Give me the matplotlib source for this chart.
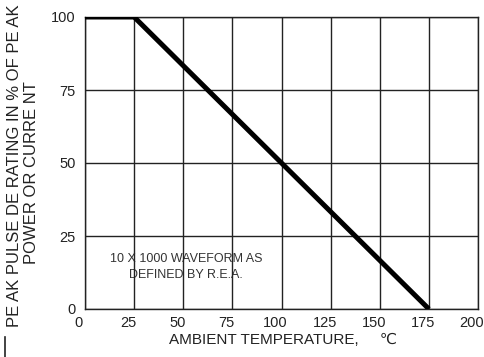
import matplotlib
matplotlib.use("Agg")
import matplotlib.pyplot as plt
from matplotlib.lines import Line2D
import matplotlib.transforms as mtransforms

temps = [0, 25, 175]
rating = [100, 100, 0]
xticks = [0, 25, 50, 75, 100, 125, 150, 175, 200]
yticks = [0, 25, 50, 75, 100]

plt.rcParams['font.family'] = ['Liberation Sans', 'DejaVu Sans']

fig = plt.figure(figsize=(4.85, 3.57), dpi=100)
ax = fig.add_axes([85/485, 1-309/357, (478-85)/485, (309-17)/357])
ax.set_xlim(0, 200)
ax.set_ylim(0, 100)
ax.set_xticks(xticks)
ax.set_yticks(yticks)
ax.set_xticklabels([str(v) for v in xticks], fontsize=10.5, color='#222222')
ax.set_yticklabels([str(v) for v in yticks], fontsize=10.5, color='#222222')
ax.tick_params(axis='x', length=0, pad=5)
ax.tick_params(axis='y', length=0, pad=6.5)
shift = mtransforms.ScaledTranslation(-6/100, 0, fig.dpi_scale_trans)
for lab in ax.get_xticklabels():
    lab.set_transform(lab.get_transform() + shift)
ax.grid(True, color='#222222', linewidth=1.0)
for s in ax.spines.values():
    s.set_color('#222222')
    s.set_linewidth(1.0)

ax.plot(temps, rating, color='black', linewidth=3.6, solid_capstyle='butt', zorder=5)

ax.text(51.5, 17.0, "10 X 1000 WAVEFORM AS", ha='center', va='center', fontsize=9,
        color='#333333', zorder=1)
ax.text(51.5, 11.8, "DEFINED BY R.E.A.", ha='center', va='center', fontsize=9,
        color='#333333', zorder=1)

fig.text(283/485, 1-340/357, "AMBIENT TEMPERATURE,     \u2103", ha='center', va='center',
         fontsize=11, color='#222222')
fig.text(15/485, 1-166/357, "PE AK PULSE DE RATING IN % OF PE AK", rotation=90,
         ha='center', va='center', fontsize=12, color='#222222')
fig.text(32/485, 1-173/357, "POWER OR CURRE NT", rotation=90,
         ha='center', va='center', fontsize=12, color='#222222')

fig.add_artist(Line2D([5/485, 5/485], [0, 1-337/357], color='#222222', linewidth=1.2))

fig.savefig("out.png", dpi=100)
